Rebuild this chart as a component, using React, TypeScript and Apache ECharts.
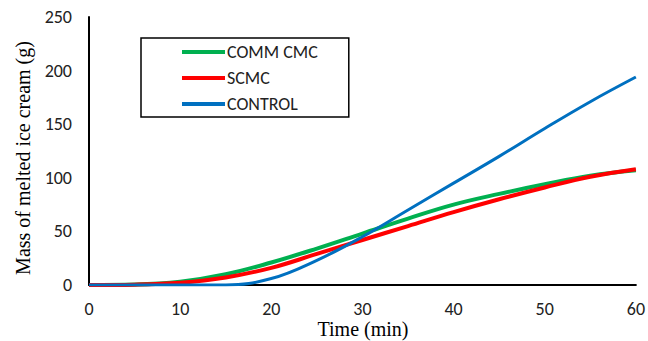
import React, { useEffect, useRef } from "react";
import * as echarts from "echarts";

const timeMin = [0, 5, 10, 15, 20, 25, 30, 35, 40, 45, 50, 55, 60];
const commCmc = [0, 0.4, 3, 10, 21, 34, 48, 62, 75, 85, 94, 102, 107];
const scmc = [0, 0.3, 2, 7, 16, 29, 42, 55, 68, 80, 91, 101, 108];
const control = [0, 0, 0, 0, 6, 23, 45, 70, 95, 120, 146, 171, 194];
const yTicks = [0, 50, 100, 150, 200, 250];
const xTitle = "Time (min)";
const yTitle = "Mass of melted ice cream (g)";

export default function App() {
  const ref = useRef<HTMLDivElement>(null);
  useEffect(() => {
    const chart = echarts.init(ref.current!, undefined, { renderer: "svg" });
    const mk = (arr: number[]) => timeMin.map((t, i) => [t, arr[i]]);
    const labelFont = "Carlito, Calibri, Liberation Sans";
    chart.setOption({
      animation: false,
      backgroundColor: "#ffffff",
      grid: { left: 89, right: 11, top: 17, bottom: 56 },
      graphic: [
        {
          type: "text",
          x: 363,
          y: 329,
          style: {
            text: xTitle,
            font: '20px "Liberation Serif"',
            fill: "#000",
            align: "center",
            verticalAlign: "middle",
          },
        },
        {
          type: "text",
          x: 23,
          y: 158,
          rotation: Math.PI / 2,
          style: {
            text: yTitle,
            font: '20px "Liberation Serif"',
            fill: "#000",
            align: "center",
            verticalAlign: "middle",
          },
        },
      ],
      xAxis: {
        type: "value",
        min: 0,
        max: 60,
        interval: 10,
        axisLine: { lineStyle: { color: "#000", width: 2 } },
        axisTick: { show: false },
        splitLine: { show: false },
        axisLabel: { fontFamily: labelFont, fontSize: 18, color: "#222", margin: 15 },
      },
      yAxis: {
        type: "value",
        min: yTicks[0],
        max: yTicks[yTicks.length - 1],
        interval: 50,
        axisLine: { show: true, lineStyle: { color: "#000", width: 2 } },
        axisTick: { show: false },
        splitLine: { show: false },
        axisLabel: { fontFamily: labelFont, fontSize: 18, color: "#222", margin: 17 },
      },
      legend: {
        orient: "vertical",
        left: 141,
        top: 38,
        padding: [5, 31, 4, 41],
        itemGap: 8,
        itemWidth: 43,
        itemHeight: 4,
        borderColor: "#000",
        borderWidth: 1.5,
        icon: "rect",
        textStyle: { fontFamily: labelFont, fontSize: 18, color: "#222", padding: [0, 0, 0, -3] },
        data: ["COMM CMC", "SCMC", "CONTROL"],
      },
      series: [
        {
          name: "COMM CMC",
          type: "line",
          smooth: 0.4,
          showSymbol: false,
          data: mk(commCmc),
          color: "#00B050",
          lineStyle: { width: 4, color: "#00B050" },
        },
        {
          name: "SCMC",
          type: "line",
          smooth: 0.4,
          showSymbol: false,
          data: mk(scmc),
          color: "#FF0000",
          lineStyle: { width: 4, color: "#FF0000" },
        },
        {
          name: "CONTROL",
          type: "line",
          smooth: 0.4,
          showSymbol: false,
          data: mk(control),
          color: "#0070C0",
          lineStyle: { width: 3, color: "#0070C0" },
        },
      ],
    });
    return () => chart.dispose();
  }, []);
  return <div ref={ref} style={{ width: 648, height: 341, position: "absolute", left: 0, top: 0 }} />;
}
